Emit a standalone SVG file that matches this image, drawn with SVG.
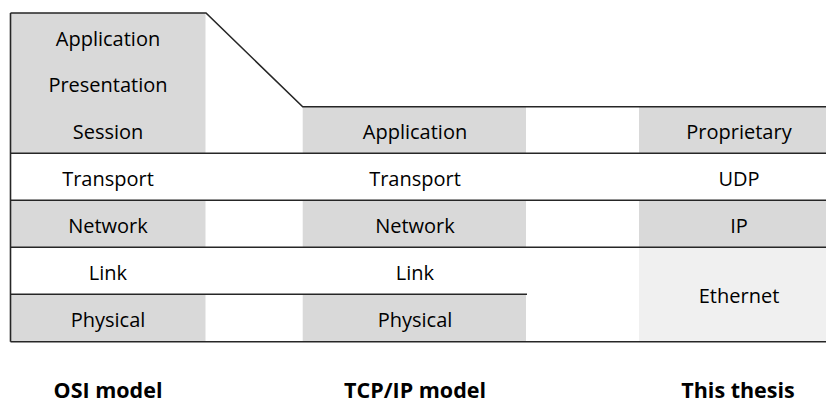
<svg xmlns="http://www.w3.org/2000/svg" width="826" height="403" viewBox="0 0 826 403">
<style>
.g{fill:#d9d9d9}
.lg{fill:#f0f0f0}
.ln{stroke:#262626;stroke-width:1.6;fill:none}
text{font-family:"Open Sans","Liberation Sans",sans-serif;font-size:20px;fill:#000;text-anchor:middle}
.b{font-weight:bold;font-size:21.5px}
</style>
<rect width="826" height="403" fill="#fff"/>
<g id="osi">
<rect class="g" x="10.5" y="13" width="195" height="140"/>
<rect class="g" x="10.5" y="200" width="195" height="47"/>
<rect class="g" x="10.5" y="294" width="195" height="47.5"/>
<text x="108" y="46">Application</text>
<text x="108" y="92">Presentation</text>
<text x="108" y="138.5">Session</text>
<text x="108" y="186">Transport</text>
<text x="108" y="232.5">Network</text>
<text x="108" y="280">Link</text>
<text x="108" y="327">Physical</text>
<text class="b" x="108" y="398">OSI model</text>
</g>
<g id="tcpip">
<rect class="g" x="302.7" y="107" width="223.3" height="46"/>
<rect class="g" x="302.7" y="200" width="223.3" height="47"/>
<rect class="g" x="302.7" y="294" width="223.3" height="47.5"/>
<text x="415" y="138.5">Application</text>
<text x="415" y="186">Transport</text>
<text x="415" y="232.5">Network</text>
<text x="415" y="280">Link</text>
<text x="415" y="327">Physical</text>
<text class="b" x="415" y="398">TCP/IP model</text>
</g>
<g id="thesis">
<rect class="g" x="639" y="107" width="187" height="46"/>
<rect class="g" x="639" y="200" width="187" height="47"/>
<rect class="lg" x="639" y="247" width="187" height="94.5"/>
<text x="739" y="138.5">Proprietary</text>
<text x="739" y="186">UDP</text>
<text x="739" y="232.5">IP</text>
<text x="739" y="303">Ethernet</text>
<text class="b" x="738" y="398">This thesis</text>
</g>
<g id="lines">
<path class="ln" d="M10.5 13 H206 L302.7 106.8 H826"/>
<path class="ln" d="M10.5 13 V341.7"/>
<path class="ln" d="M10.5 153.3 H826"/>
<path class="ln" d="M10.5 200.3 H826"/>
<path class="ln" d="M10.5 247.3 H826"/>
<path class="ln" d="M10.5 294.3 H527"/>
<path class="ln" d="M10.5 341.7 H826"/>
</g>
</svg>
